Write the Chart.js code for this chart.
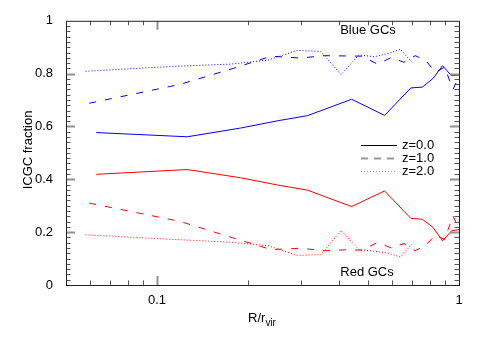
<!DOCTYPE html>
<html>
<head>
<meta charset="utf-8">
<script src="https://cdn.jsdelivr.net/npm/chart.js@4/dist/chart.umd.min.js"></script>
<style>
	html, body { margin: 0; padding: 0; background: #fff; }
</style>
</head>
<body>
<canvas id="gcChart" width="491" height="343"></canvas>
<script>
// radial bins (R/r_vir) for each redshift
const radiusZ0 = [0.063, 0.126, 0.189, 0.252, 0.315, 0.441, 0.567, 0.693, 0.756, 0.819, 0.882, 0.945, 1.0]
const radiusZ1 = [0.0597, 0.119, 0.179, 0.239, 0.299, 0.358, 0.418, 0.478, 0.537, 0.597, 0.657, 0.716, 0.776, 0.836, 0.896, 0.955, 1.0]
const radiusZ2 = [0.058, 0.116, 0.175, 0.233, 0.291, 0.349, 0.407, 0.466, 0.524, 0.582, 0.640, 0.698]

// ICGC fractions, blue GCs
const blueZ0 = [0.577, 0.561, 0.594, 0.622, 0.641, 0.703, 0.642, 0.746, 0.749, 0.781, 0.830, 0.792, 0.795]
const blueZ1 = [0.688, 0.759, 0.820, 0.866, 0.859, 0.868, 0.867, 0.866, 0.836, 0.861, 0.843, 0.868, 0.850, 0.805, 0.825, 0.740, 0.790]
const blueZ2 = [0.809, 0.828, 0.836, 0.851, 0.888, 0.884, 0.796, 0.871, 0.864, 0.876, 0.892, 0.843]

// ICGC fractions, red GCs
const redZ0 = [0.419, 0.437, 0.406, 0.378, 0.359, 0.297, 0.356, 0.252, 0.249, 0.219, 0.167, 0.205, 0.210]
const redZ1 = [0.310, 0.241, 0.178, 0.134, 0.139, 0.130, 0.133, 0.132, 0.161, 0.140, 0.157, 0.130, 0.150, 0.190, 0.172, 0.262, 0.210]
const redZ2 = [0.190, 0.172, 0.162, 0.149, 0.112, 0.115, 0.206, 0.134, 0.128, 0.121, 0.106, 0.155]

const legendLabels = ["z=0.0", "z=1.0", "z=2.0"]
const yTickValues = [0, 0.2, 0.4, 0.6, 0.8, 1]
const xTickValues = [0.1, 1]

const FONT = "'Liberation Sans', Arial, Helvetica, sans-serif"
const DASH = [7, 9]
const DOT = [1, 2]

function toPoints(xs, ys) {
	return xs.map((x, i) => ({ x: x, y: ys[i] }))
}

function series(label, xs, ys, color, dash) {
	return {
		label: label,
		data: toPoints(xs, ys),
		borderColor: color,
		borderWidth: 1,
		borderDash: dash,
		pointRadius: 0,
		fill: false,
		tension: 0,
	}
}

// frame, inward ticks, annotations, legend and axis titles
const decorPlugin = {
	id: "decor",
	afterDraw(chart) {
		const ctx = chart.ctx
		const area = chart.chartArea
		const xs = chart.scales.x
		const ys = chart.scales.y
		ctx.save()

		const tick = (x1, y1, x2, y2, major) => {
			ctx.strokeStyle = major ? "#909090" : "#555"
			ctx.lineWidth = major ? 2 : 1
			ctx.beginPath()
			ctx.moveTo(x1, y1)
			ctx.lineTo(x2, y2)
			ctx.stroke()
		}

		// y ticks every 0.02, major every 0.2
		for (let i = 1; i < 50; i++) {
			const major = i % 10 === 0
			const len = major ? 9 : 4.5
			const py = Math.round(ys.getPixelForValue(i / 50)) + 0.5
			tick(area.left, py, area.left + len, py, major)
			tick(area.right, py, area.right - len, py, major)
		}
		// x log ticks
		const xMinor = [0.06, 0.07, 0.08, 0.09, 0.2, 0.3, 0.4, 0.5, 0.6, 0.7, 0.8, 0.9]
		xMinor.concat([0.1]).forEach((v) => {
			const major = v === 0.1
			const len = major ? 9 : 4.5
			const px = Math.round(xs.getPixelForValue(v)) + 0.5
			tick(px, area.bottom, px, area.bottom - len, major)
			tick(px, area.top, px, area.top + len, major)
		})

		// frame
		ctx.strokeStyle = "#222"
		ctx.lineWidth = 1
		ctx.strokeRect(area.left + 0.5, area.top + 0.5, area.right - area.left, area.bottom - area.top)

		// labels inside the plot
		ctx.fillStyle = "#000"
		ctx.font = "13px " + FONT
		ctx.textAlign = "center"
		ctx.textBaseline = "middle"
		ctx.fillText("Blue GCs", 368, 30)
		ctx.fillText("Red GCs", 367, 272)

		// legend
		const legendStyles = [
			{ color: "#000", dash: [], width: 1 },
			{ color: "#999", dash: [7, 6], width: 2 },
			{ color: "#999", dash: DOT, width: 1 },
		]
		const legendY = [145, 158, 171]
		legendLabels.forEach((txt, i) => {
			const st = legendStyles[i]
			ctx.strokeStyle = st.color
			ctx.lineWidth = st.width
			ctx.setLineDash(st.dash)
			ctx.beginPath()
			ctx.moveTo(361, legendY[i] + 0.5)
			ctx.lineTo(397, legendY[i] + 0.5)
			ctx.stroke()
			ctx.setLineDash([])
			ctx.textAlign = "left"
			ctx.fillText(txt, 402, legendY[i])
		})

		// y title
		ctx.save()
		ctx.translate(28, 150)
		ctx.rotate(-Math.PI / 2)
		ctx.textAlign = "center"
		ctx.font = "13px " + FONT
		ctx.fillText("ICGC fraction", 0, 0)
		ctx.restore()

		// x title with subscript
		ctx.textBaseline = "alphabetic"
		ctx.textAlign = "left"
		ctx.font = "13px " + FONT
		const mainW = ctx.measureText("R/r").width
		ctx.font = "10px " + FONT
		const subW = ctx.measureText("vir").width
		const startX = 262 - (mainW + subW) / 2
		ctx.font = "13px " + FONT
		ctx.fillText("R/r", startX, 322)
		ctx.font = "10px " + FONT
		ctx.fillText("vir", startX + mainW, 326)

		ctx.restore()
	},
}

document.addEventListener("DOMContentLoaded", function () {
	const ctx = document.getElementById("gcChart").getContext("2d")
	new Chart(ctx, {
		type: "line",
		data: {
			datasets: [
				series("blue z=0.0", radiusZ0, blueZ0, "#0000ff", []),
				series("blue z=1.0", radiusZ1, blueZ1, "#0000ff", DASH),
				series("blue z=2.0", radiusZ2, blueZ2, "#0000ff", DOT),
				series("red z=0.0", radiusZ0, redZ0, "#ff0000", []),
				series("red z=1.0", radiusZ1, redZ1, "#ff0000", DASH),
				series("red z=2.0", radiusZ2, redZ2, "#ff0000", DOT),
			],
		},
		options: {
			responsive: false,
			animation: false,
			layout: { padding: { top: 16, right: 32, left: 0, bottom: 0 } },
			plugins: {
				legend: { display: false },
				tooltip: { enabled: false },
			},
			scales: {
				x: {
					type: "logarithmic",
					min: 0.05,
					max: 1,
					grid: { display: false, drawTicks: false },
					border: { display: false },
					afterBuildTicks: (axis) => {
						axis.ticks = xTickValues.map((v) => ({ value: v }))
					},
					afterFit: (axis) => {
						axis.height = 58
					},
					ticks: {
						autoSkip: false,
						maxRotation: 0,
						padding: 8,
						color: "#000",
						font: { family: FONT, size: 13 },
						callback: (v) => (v >= 1 ? "1" : String(v)),
					},
				},
				y: {
					min: 0,
					max: 1,
					grid: { display: false, drawTicks: false },
					border: { display: false },
					afterBuildTicks: (axis) => {
						axis.ticks = yTickValues.map((v) => ({ value: v }))
					},
					afterFit: (axis) => {
						axis.width = 66
					},
					ticks: {
						padding: 13,
						color: "#000",
						font: { family: FONT, size: 13 },
						callback: (v) => (v === 0 || v === 1 ? String(v) : v.toFixed(1)),
					},
				},
			},
		},
		plugins: [decorPlugin],
	})
})
</script>
</body>
</html>
